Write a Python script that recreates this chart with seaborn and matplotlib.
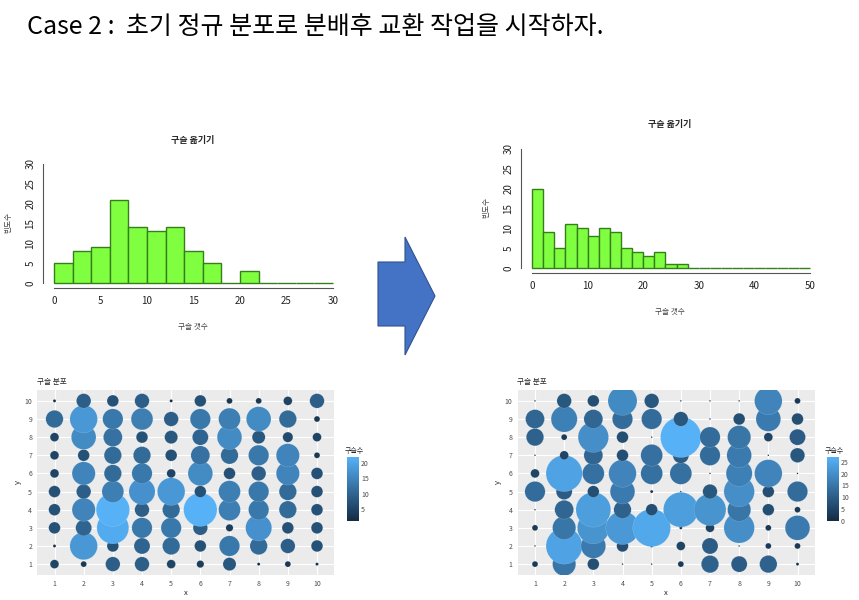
import numpy as np
import pandas as pd
import matplotlib
matplotlib.use("Agg")
import matplotlib.pyplot as plt
import seaborn as sns
from matplotlib.colors import LinearSegmentedColormap, Normalize
from matplotlib.cm import ScalarMappable
from matplotlib.patches import Polygon

sns.set_style("white")
plt.rcParams['font.family'] = ['Noto Sans CJK KR', 'DejaVu Sans']

# histogram bin counts (bins of width 2)
hist_before = [5, 8, 9, 21, 14, 13, 14, 8, 5, 0, 3, 0, 0, 0, 0]
hist_after = [20, 9, 5, 11, 10, 8, 10, 9, 5, 4, 3, 4, 1, 1] + [0] * 11

# marbles per cell, rows from y=10 (top) to y=1, columns x=1..10
grid_before = [
    [1, 9, 7, 9, 1, 7, 3, 3, 5, 9],
    [11, 18, 13, 14, 9, 13, 14, 16, 11, 3],
    [5, 16, 12, 7, 8, 10, 16, 8, 6, 5],
    [5, 7, 11, 11, 7, 12, 11, 13, 15, 3],
    [5, 15, 11, 13, 5, 16, 7, 9, 15, 7],
    [7, 9, 14, 17, 18, 7, 14, 13, 11, 7],
    [7, 15, 22, 9, 11, 22, 14, 13, 11, 7],
    [7, 10, 21, 13, 13, 9, 4, 17, 7, 7],
    [1, 18, 7, 10, 11, 7, 13, 11, 9, 7],
    [5, 3, 9, 9, 5, 4, 8, 1, 3, 1],
]
grid_after = [
    [0, 9, 7, 19, 9, 0, 0, 0, 18, 3],
    [12, 17, 12, 13, 13, 9, 0, 7, 16, 7],
    [11, 3, 20, 7, 0, 27, 13, 15, 5, 10],
    [0, 5, 12, 7, 14, 10, 13, 16, 0, 9],
    [5, 24, 14, 18, 14, 14, 0, 17, 18, 0],
    [13, 10, 7, 16, 1, 0, 9, 20, 7, 13],
    [0, 12, 23, 11, 7, 23, 21, 15, 7, 3],
    [3, 15, 21, 22, 25, 1, 5, 20, 3, 16],
    [0, 24, 16, 7, 1, 5, 10, 0, 3, 3],
    [3, 15, 7, 0, 0, 3, 11, 10, 11, 1],
]

W, H = 859, 600
fig = plt.figure(figsize=(W / 100, H / 100), dpi=100)
fig.patch.set_facecolor("white")


def fx(x):
    return x / W


def fy(y):
    return 1 - y / H


def box(l, t, r, b):
    return [fx(l), fy(b), (r - l) / W, (b - t) / H]


fig.text(fx(27), fy(27), "Case 2 :  초기 정규 분포로 분배후 교환 작업을 시작하자.",
         fontsize=18, va="center", ha="left", color="black")

# ---------- histograms (R style) ----------
def r_hist(rect, counts, xmax, xstep, title_xy, xlab_xy, ylab_xy):
    ax = fig.add_axes(rect)
    edges = [2 * i for i in range(len(counts) + 1)]
    hd = pd.DataFrame({"mid": [e + 1 for e in edges[:-1]], "cnt": counts})
    sns.histplot(data=hd, x="mid", weights="cnt", bins=edges, ax=ax,
                 color="#80FF40", edgecolor="#357F1A", linewidth=1.0, alpha=1)
    ext = xmax * 0.04
    ax.set_xlim(-ext, xmax + ext)
    ax.set_ylim(-1.2, 31.2)
    for s in ["top", "right"]:
        ax.spines[s].set_visible(False)
    ax.spines["left"].set_bounds(0, 30)
    ax.spines["bottom"].set_bounds(0, xmax)
    for s in ["left", "bottom"]:
        ax.spines[s].set_color("#555555")
        ax.spines[s].set_linewidth(0.8)
    ax.set_xticks(np.arange(0, xmax + 1, xstep))
    ax.set_yticks(np.arange(0, 31, 5))
    ax.set_yticklabels([str(v) for v in range(0, 31, 5)], rotation=90, va="center")
    ax.tick_params(direction="out", length=3.5, width=0.8, color="#555555",
                   labelsize=7, labelcolor="#222222", pad=2)
    ax.set_xlabel("")
    ax.set_ylabel("")
    fig.text(fx(title_xy[0]), fy(title_xy[1]), "구슬 옮기기", fontsize=6.5,
             fontweight="bold", ha="center", va="center")
    fig.text(fx(xlab_xy[0]), fy(xlab_xy[1]), "구슬 갯수", fontsize=5.5,
             ha="center", va="center", color="#444444")
    fig.text(fx(ylab_xy[0]), fy(ylab_xy[1]), "빈도수", fontsize=5.5, rotation=90,
             ha="center", va="center", color="#444444")
    return ax


r_hist(box(43, 159, 344, 288), hist_before, 30, 5, (193, 140), (193, 327), (8, 223))
r_hist(box(521, 144, 821, 273), hist_after, 50, 10, (670, 125), (670, 312), (486, 207))

# ---------- arrow ----------
arrow_px = [(378, 262), (405, 262), (405, 237), (435, 296), (405, 355), (405, 326), (378, 326)]
fig.add_artist(Polygon([(fx(a), fy(b)) for a, b in arrow_px], closed=True,
                       transform=fig.transFigure, facecolor="#4472C4",
                       edgecolor="#2F528F", linewidth=0.8))

# ---------- bubble maps (ggplot style) ----------
gg_cmap = LinearSegmentedColormap.from_list("gg", ["#132B43", "#56B1F7"])


def grid_frame(grid):
    rows = []
    for i, row in enumerate(reversed(grid)):
        for j, v in enumerate(row):
            rows.append((j + 1, i + 1, v))
    return pd.DataFrame(rows, columns=["x", "y", "n"])


def bubble(rect, cbar_rect, grid, cticks, title_x, ltitle_x):
    df = grid_frame(grid)
    lo, hi = df["n"].min(), df["n"].max()
    ax = fig.add_axes(rect)
    ax.set_facecolor("#EBEBEB")
    ax.grid(True, color="white", linewidth=0.8)
    ax.set_axisbelow(True)
    sizes = ((1.5 + 1.45 * df["n"].to_numpy()) * 0.72) ** 2
    sns.scatterplot(data=df, x="x", y="y", hue="n", palette=gg_cmap, hue_norm=(lo, hi),
                    s=sizes, edgecolor=(1, 1, 1, 0.3), linewidth=0.3, legend=False, ax=ax)
    ax.set_xlim(0.4, 10.6)
    ax.set_ylim(0.4, 10.6)
    ax.set_xticks(range(1, 11))
    ax.set_yticks(range(1, 11))
    for s in ax.spines.values():
        s.set_visible(False)
    ax.tick_params(length=2, width=0.5, color="#333333", labelsize=5,
                   labelcolor="#4D4D4D", pad=1.5)
    ax.set_xlabel("x", fontsize=5.5, labelpad=1)
    ax.set_ylabel("y", fontsize=5.5, labelpad=2)
    fig.text(fx(title_x), fy(382), "구슬 분포", fontsize=5.5, ha="left", va="center")

    cax = fig.add_axes(cbar_rect)
    cb = fig.colorbar(ScalarMappable(norm=Normalize(lo, hi), cmap=gg_cmap), cax=cax)
    cb.outline.set_visible(False)
    cb.set_ticks(cticks)
    cax.tick_params(left=True, right=True, direction="in", length=2.5, width=0.6,
                    color="white", labelsize=5, labelcolor="#4D4D4D", pad=1.5)
    fig.text(fx(ltitle_x), fy(451), "구슬수", fontsize=5, ha="left", va="center")


bubble(box(37, 390, 334.5, 575), box(347, 457, 359, 521), grid_before, [5, 10, 15, 20], 37, 345)
bubble(box(517.5, 390, 815, 575), box(827, 457, 839, 521), grid_after, [0, 5, 10, 15, 20, 25], 517, 825)

fig.savefig("out.png", dpi=100)
